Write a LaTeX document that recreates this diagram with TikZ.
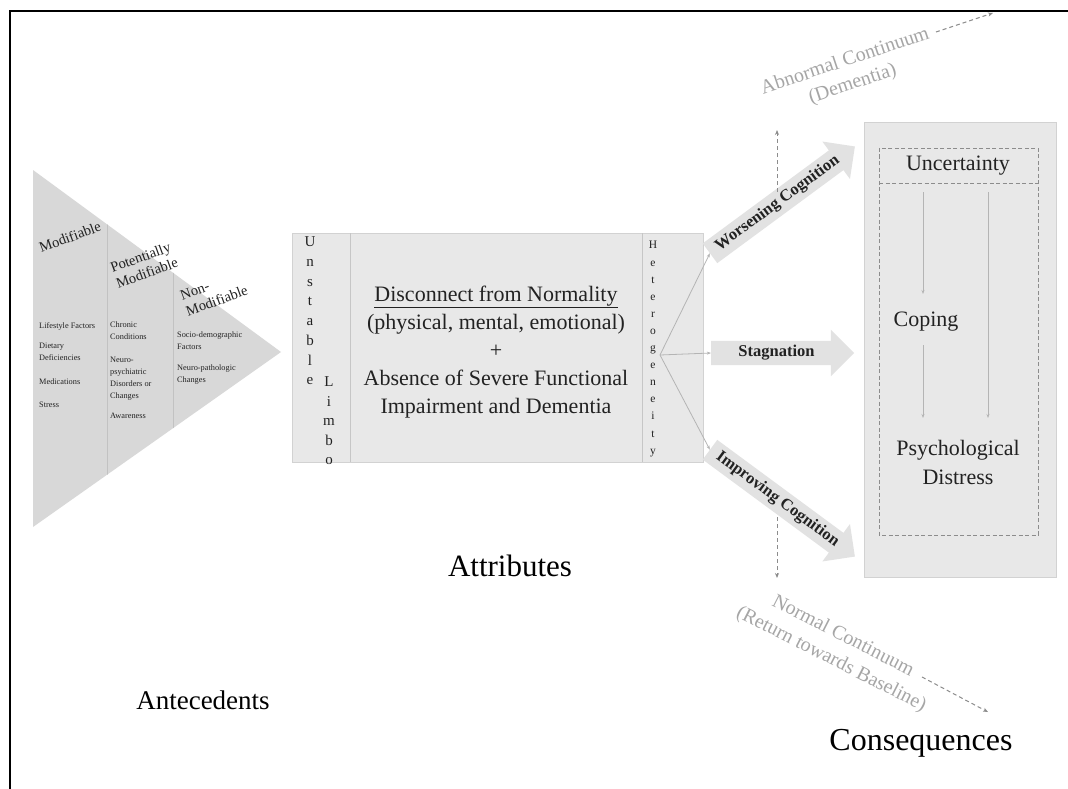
\documentclass[tikz,border=0pt]{standalone}
\usepackage{fontspec}
\setmainfont{Liberation Serif}
\usetikzlibrary{shapes.arrows,arrows.meta}
\definecolor{trifill}{HTML}{D8D8D8}
\definecolor{boxfill}{HTML}{E8E8E8}
\definecolor{boxline}{HTML}{D2D2D2}
\definecolor{arrfill}{HTML}{E2E2E2}
\definecolor{txt}{HTML}{222222}
\definecolor{ghost}{HTML}{A6A6A6}
\definecolor{dashc}{HTML}{8C8C8C}
\definecolor{thinc}{HTML}{B4B4B4}
\tikzset{
  hdr/.style={inner sep=0pt, align=left, text=txt, font=\fontsize{14.5}{17}\selectfont},
  small/.style={inner sep=0pt, align=left, anchor=north west, text=txt, font=\fontsize{8.3}{12}\selectfont},
  bigarrow/.style={shape=single arrow, fill=arrfill, draw=none, single arrow head extend=11pt,
     inner xsep=3pt, inner ysep=4.5pt, text=txt, font=\bfseries\fontsize{16.5}{19}\selectfont},
  vletters/.style={inner sep=0pt, align=center, text=txt},
  thinarrow/.style={draw=thinc, line width=0.8pt, -{Stealth[length=4pt,width=3pt]}},
  dasharrow/.style={draw=dashc, line width=1pt, dashed, dash pattern=on 4pt off 3pt, -{Stealth[length=5pt,width=4pt]}},
  ghosttext/.style={inner sep=0pt, align=center, text=ghost, font=\fontsize{20}{24}\selectfont},
  biglabel/.style={inner sep=0pt, text=black},
  midtext/.style={inner sep=0pt, align=center, text=txt, font=\fontsize{22}{28}\selectfont},
}
\begin{document}
\begin{tikzpicture}[x=1pt,y=-1pt]
\useasboundingbox (0,0) rectangle (1068,789);
\fill[white] (0,0) rectangle (1068,789);
% frame
\draw[line width=2.6pt, black] (10,789) -- (10,11) -- (1068,11);

% ---------------- Antecedents triangle ----------------
\coordinate (t1) at (33,170);
\coordinate (t2) at (33,527);
\coordinate (t3) at (281,352);
\fill[trifill] (t1) -- (t3) -- (t2) -- cycle;
\begin{scope}
  \clip (t1) -- (t3) -- (t2) -- cycle;
  \draw[boxline!80!gray, line width=0.8pt] (107,150) -- (107,550);
  \draw[boxline!80!gray, line width=0.8pt] (173,150) -- (173,550);
\end{scope}
\node[hdr, rotate=20] (hmod) at (70,237) {Modifiable};
\node[hdr, rotate=20] (hpot) at (144,265) {Potentially\\Modifiable};
\node[hdr, rotate=20] (hnon) at (214,293) {Non-\\Modifiable};

\node[small] (c1a) at (39,322) {Lifestyle Factors};
\node[small] (c1b) at (39,343) {Dietary\\Deficiencies};
\node[small] (c1c) at (39,379) {Medications};
\node[small] (c1d) at (39,402) {Stress};
\node[small] (c2a) at (110,322) {Chronic\\Conditions};
\node[small] (c2b) at (110,357) {Neuro-\\psychiatric\\Disorders or\\Changes};
\node[small] (c2c) at (110,413) {Awareness};
\node[small] (c3a) at (177,332) {Socio-demographic\\Factors};
\node[small] (c3b) at (177,365) {Neuro-pathologic\\Changes};

\node[biglabel, font=\fontsize{27}{32}\selectfont] (ante) at (203,700) {Antecedents};

% ---------------- Attributes box ----------------
\node[draw=boxline, fill=boxfill, line width=0.6pt, minimum width=411pt, minimum height=229pt, inner sep=0pt] (att) at (497.5,347.5) {};
\draw[boxline!85!gray, line width=0.8pt] (350,233) -- (350,462);
\draw[boxline!85!gray, line width=0.8pt] (642,233) -- (642,462);
\node[vletters, font=\fontsize{15}{19.7}\selectfont] (unst) at (310,311) {U\\n\\s\\t\\a\\b\\l\\e};
\node[vletters, font=\fontsize{15}{19.5}\selectfont] (limbo) at (329,421) {L\\i\\m\\b\\o};
\node[vletters, font=\fontsize{11.5}{17.1}\selectfont] (het) at (653,349) {H\\e\\t\\e\\r\\o\\g\\e\\n\\e\\i\\t\\y};
\node[midtext] (main) at (496,352) {\underline{Disconnect from Normality}\\(physical, mental, emotional)\\+\\Absence of Severe Functional\\Impairment and Dementia};
\node[biglabel, font=\fontsize{31}{36}\selectfont] (attl) at (510,566) {Attributes};

% ---------------- trajectory arrows ----------------
\node[bigarrow, rotate=36.4, minimum height=180pt] (warr) at (777.5,203.5) {Worsening Cognition};
\node[bigarrow, minimum height=143pt] (sarr) at (776.5,353) {Stagnation};
\node[bigarrow, rotate=-36.4, minimum height=180pt] (iarr) at (777.5,499.5) {Improving Cognition};

\coordinate (hsrc) at (660,355);
\draw[thinarrow] (hsrc) -- (warr.tail);
\draw[thinarrow] (hsrc) -- (sarr.tail);
\draw[thinarrow] (hsrc) -- (iarr.tail);

% dashed continuum arrows
\coordinate (wup0) at (777,192);
\coordinate (wup1) at (777,130);
\draw[dasharrow] (wup0) -- (wup1);
\coordinate (idn0) at (777,517);
\coordinate (idn1) at (777,578);
\draw[dasharrow] (idn0) -- (idn1);

\node[ghosttext, rotate=18.5] (abn) at (849,73) {Abnormal Continuum\\(Dementia)};
\coordinate (abn0) at (936,32);
\coordinate (abn1) at (993,13);
\draw[dasharrow] (abn0) -- (abn1);

\node[ghosttext, rotate=-27, font=\fontsize{20}{26}\selectfont] (nor) at (837,648) {Normal Continuum\\(Return towards Baseline)};
\coordinate (nor0) at (922,677);
\coordinate (nor1) at (988,712);
\draw[dasharrow] (nor0) -- (nor1);

% ---------------- Consequences box ----------------
\node[fill=boxfill, draw=boxline, line width=0.6pt, minimum width=192pt, minimum height=455pt, inner sep=0pt] (cons) at (960,349.5) {};
\draw[dashc, dashed, dash pattern=on 4pt off 2.5pt, line width=0.9pt] (879,148) rectangle (1038,535);
\draw[dashc, dashed, dash pattern=on 4pt off 2.5pt, line width=0.9pt] (879,183) -- (1038,183);
\node[midtext] (unc) at (958,166) {Uncertainty};
\node[midtext] (cop) at (926,322) {Coping};
\node[midtext, font=\fontsize{22}{29}\selectfont] (psy) at (958,462) {Psychological\\Distress};

\coordinate (u1) at (923,192);
\coordinate (c1) at (923,294);
\coordinate (c2) at (923,345);
\coordinate (p1) at (923,418);
\coordinate (u2) at (988,192);
\coordinate (p2) at (988,418);
\draw[thinarrow] (u1) -- (c1);
\draw[thinarrow] (c2) -- (p1);
\draw[thinarrow] (u2) -- (p2);

\node[biglabel, font=\fontsize{32}{38}\selectfont] (consl) at (921,743) {Consequences};
\end{tikzpicture}
\end{document}
